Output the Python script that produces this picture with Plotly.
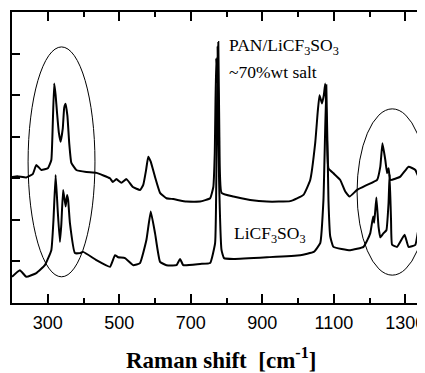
import plotly.graph_objects as go

# PAN/LiCF3SO3 (~70% wt salt) spectrum (arbitrary units)
pan_x = [200, 215, 240, 258, 268, 282, 301, 310, 314, 318, 322, 326, 331, 336, 342, 346, 350, 355, 360,
         366, 380, 408, 436, 474, 482, 492, 506, 520, 538, 558, 567, 575, 581, 588, 600, 614, 632, 651,
         688, 726, 754, 763, 767, 771, 774, 777, 780, 786, 819, 866, 913, 978, 1015, 1034, 1048, 1055,
         1060, 1067, 1072, 1076, 1081, 1085, 1099, 1118, 1132, 1144, 1165, 1193, 1221, 1230, 1236,
         1244, 1249, 1253, 1258, 1286, 1309, 1328, 1341, 1356]
pan_y = [3.03, 3.05, 3.02, 3.10, 3.32, 3.20, 3.25, 3.44, 4.30, 5.28, 5.00, 4.57, 4.10, 3.88, 4.20, 4.70,
         4.79, 4.50, 3.85, 3.37, 3.20, 3.15, 3.13, 3.00, 2.91, 2.98, 2.89, 2.98, 2.79, 2.72, 2.84, 3.20,
         3.52, 3.40, 3.03, 2.65, 2.52, 2.50, 2.44, 2.44, 2.52, 2.79, 3.60, 5.89, 5.30, 6.28, 4.00, 2.65,
         2.56, 2.48, 2.44, 2.45, 2.60, 2.96, 3.85, 4.60, 5.00, 4.80, 5.00, 5.28, 3.92, 3.24, 3.12, 2.96,
         2.68, 2.56, 2.72, 2.84, 2.96, 3.28, 3.84, 3.44, 3.12, 3.24, 2.96, 3.04, 3.28, 3.20, 2.96, 3.04]

# LiCF3SO3 salt spectrum
salt_x = [200, 222, 240, 268, 292, 310, 316, 322, 328, 334, 338, 343, 350, 354, 357, 362, 376, 390, 399,
          436, 474, 488, 497, 516, 539, 558, 576, 588, 600, 614, 632, 660, 670, 679, 726, 754, 768, 772,
          775, 779, 786, 793, 819, 913, 1006, 1044, 1062, 1071, 1079, 1085, 1090, 1099, 1146, 1183, 1193,
          1202, 1210, 1213, 1219, 1225, 1230, 1239, 1247, 1253, 1256, 1260, 1263, 1277, 1298, 1309, 1328,
          1339, 1345, 1356]
salt_y = [0.63, 0.79, 0.63, 0.72, 0.91, 1.27, 2.00, 3.08, 2.20, 1.47, 1.90, 2.72, 2.32, 2.60, 2.48, 1.92,
          1.20, 1.20, 1.23, 1.03, 0.87, 1.15, 1.10, 1.08, 0.91, 0.96, 1.52, 2.20, 1.68, 0.99, 0.91, 0.91,
          1.06, 0.91, 0.94, 0.96, 1.44, 3.50, 6.17, 3.00, 1.27, 1.08, 1.06, 1.10, 1.15, 1.23, 1.44, 2.48,
          5.24, 2.48, 1.60, 1.35, 1.27, 1.35, 1.50, 1.68, 2.08, 1.93, 2.54, 1.84, 1.58, 1.68, 1.75, 2.40,
          3.10, 2.00, 1.40, 1.35, 1.64, 1.35, 1.40, 1.88, 1.60, 1.92]

x_ticks = [300, 500, 700, 900, 1100, 1300]
x_tick_labels = ["300", "500", "700", "900", "1100", "1300"]
x_minor_ticks = [400, 600, 800, 1000, 1200]
y_ticks = [1, 2, 3, 4, 5, 6]

# highlighted regions (ellipses): [x0, x1, y0, y1]
ellipse_left = [245, 432, 0.63, 6.16]
ellipse_right = [1165, 1362, 0.67, 4.67]

line_style = dict(color="black", width=2, shape="spline", smoothing=0.35)

fig = go.Figure()
fig.add_trace(go.Scatter(x=pan_x, y=pan_y, mode="lines", line=line_style,
                         showlegend=False, hoverinfo="skip"))
fig.add_trace(go.Scatter(x=salt_x, y=salt_y, mode="lines", line=line_style,
                         showlegend=False, hoverinfo="skip"))
# invisible trace for the mirrored (top/right) tick axes
fig.add_trace(go.Scatter(x=[pan_x[0]], y=[pan_y[0]], xaxis="x2", yaxis="y2", mode="markers",
                         marker=dict(opacity=0), showlegend=False, hoverinfo="skip"))

for e in (ellipse_left, ellipse_right):
    fig.add_shape(type="circle", xref="x", yref="y", x0=e[0], x1=e[1], y0=e[2], y1=e[3],
                  line=dict(color="black", width=1))

serif = "Liberation Serif"
fig.add_annotation(x=800, y=6.16, xref="x", yref="y", xanchor="left", yanchor="middle",
                   text="PAN/LiCF<sub>3</sub>SO<sub>3</sub>", showarrow=False,
                   font=dict(family=serif, size=17.5, color="black"))
fig.add_annotation(x=801, y=5.56, xref="x", yref="y", xanchor="left", yanchor="middle",
                   text="~70%wt salt", showarrow=False,
                   font=dict(family=serif, size=17.5, color="black"))
fig.add_annotation(x=814, y=1.64, xref="x", yref="y", xanchor="left", yanchor="middle",
                   text="LiCF<sub>3</sub>SO<sub>3</sub>", showarrow=False,
                   font=dict(family=serif, size=17.5, color="black"))
fig.add_annotation(x=0.506, y=-0.19, xref="paper", yref="paper", xanchor="center", yanchor="middle",
                   text="<b>Raman shift&nbsp;&nbsp;[cm<sup>-1</sup>]</b>", showarrow=False,
                   font=dict(family=serif, size=23, color="black"))

axis_common = dict(range=[200, 1355], showgrid=False, zeroline=False)
fig.update_layout(
    # the page body adds an 8px offset, so the figure is sized to end at the window edge
    width=417, height=365,
    margin=dict(l=4, r=0, t=4, b=70),
    paper_bgcolor="white", plot_bgcolor="white",
    xaxis=dict(**axis_common, tickvals=x_ticks, ticktext=x_tick_labels,
               ticks="inside", ticklen=9, tickwidth=1.5, tickcolor="black",
               minor=dict(tickvals=x_minor_ticks, ticks="inside", ticklen=5,
                          tickwidth=1.5, tickcolor="black"),
               showline=True, linecolor="black", linewidth=1.5,
               ticklabelstandoff=3, ticklabeloverflow="allow",
               tickfont=dict(family="Liberation Sans", size=18, color="black")),
    xaxis2=dict(**axis_common, overlaying="x", side="top", tickvals=x_ticks, showticklabels=False,
                ticks="inside", ticklen=9, tickwidth=1.5, tickcolor="black",
                minor=dict(tickvals=x_minor_ticks, ticks="inside", ticklen=5,
                           tickwidth=1.5, tickcolor="black"),
                showline=True, linecolor="black", linewidth=1.5),
    yaxis=dict(range=[0, 7], tickvals=y_ticks, showticklabels=False,
               ticks="inside", ticklen=8, tickwidth=1.5, tickcolor="black",
               showline=True, linecolor="black", linewidth=1.5,
               showgrid=False, zeroline=False),
    yaxis2=dict(range=[0, 7], tickvals=y_ticks, showticklabels=False, overlaying="y", side="right",
                ticks="inside", ticklen=6, tickwidth=1.5, tickcolor="black",
                showline=False, showgrid=False, zeroline=False),
)

fig.write_html("out.html")
